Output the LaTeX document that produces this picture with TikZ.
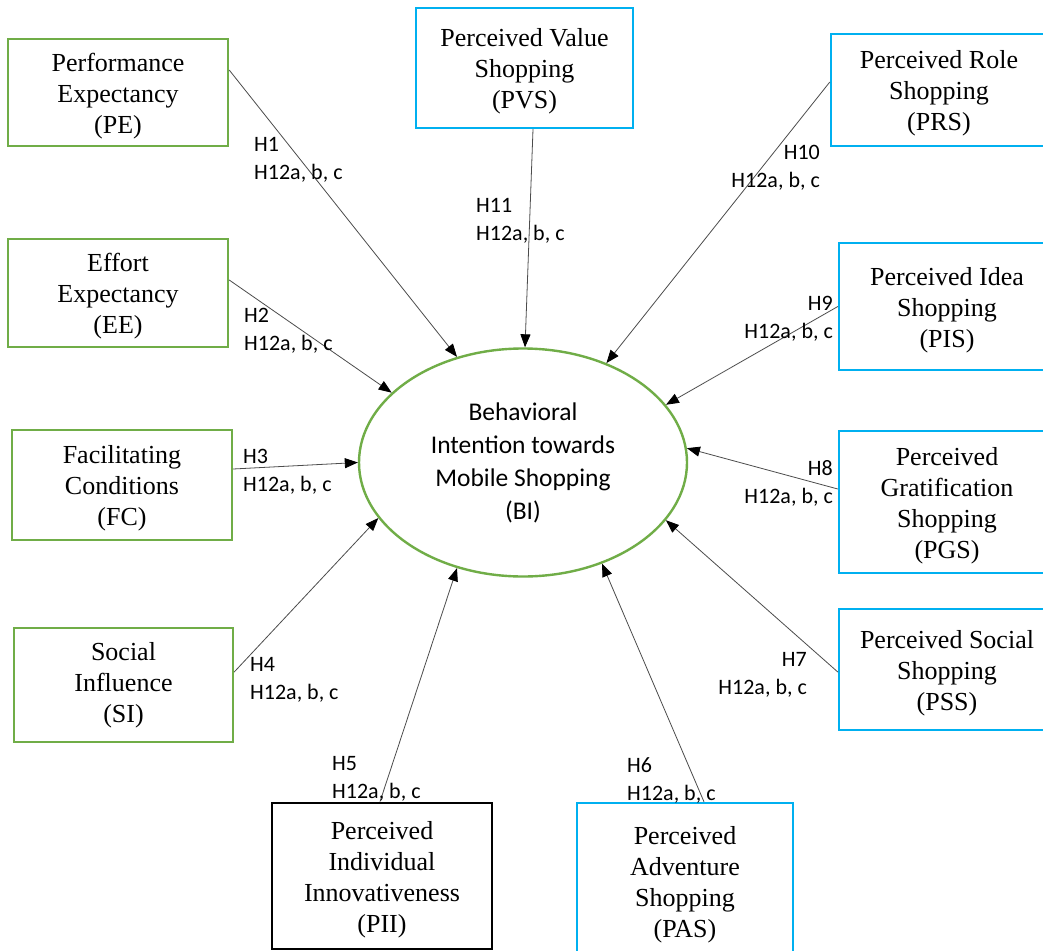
\documentclass[tikz,border=0pt]{standalone}
\usepackage{fontspec}
\setmainfont{Liberation Serif}
\newfontfamily\labelfont{Carlito}
\usetikzlibrary{arrows.meta,shapes.geometric}
\definecolor{boxgreen}{HTML}{70AD47}
\definecolor{boxblue}{HTML}{00B0F0}
% taller first line so the box text sits a little lower
\newcommand\lift{\rule{0pt}{25pt}}

\begin{document}
\begin{tikzpicture}[x=1pt,y=-1pt,
  construct/.style={draw, line width=2.4pt, inner sep=0pt, align=center,
    font=\fontsize{26}{31}\selectfont},
  utaut/.style={construct, draw=boxgreen},
  shop/.style={construct, draw=boxblue},
  trait/.style={construct, draw=black, line width=2.8pt},
  hyparrow/.style={draw=black!70, line width=0.8pt,
    -{Triangle[length=13pt,width=10pt,fill=black,color=black]}},
  hyp/.style={inner sep=0pt, font=\labelfont\fontsize{22}{28}\selectfont},
]
% canvas
\path[use as bounding box, fill=white] (0,0) rectangle (1043,950);
\clip (0,0) rectangle (1043,950);

% central construct
\node[ellipse, draw=boxgreen, line width=2.4pt, minimum width=328pt,
  minimum height=228pt, inner sep=0pt, align=center,
  font=\labelfont\fontsize{25.5}{33}\selectfont] (BI) at (523,462.5)
  {Behavioral\\Intention towards\\Mobile Shopping\\(BI)};

% UTAUT constructs (left)
\node[utaut, minimum width=220pt, minimum height=107pt] (PE) at (118,92.5)
  {\lift Performance\\Expectancy\\(PE)};
\node[utaut, minimum width=220pt, minimum height=108pt] (EE) at (118,293)
  {\lift Effort\\Expectancy\\(EE)};
\node[utaut, minimum width=220pt, minimum height=110pt] (FC) at (122,485)
  {\lift Facilitating\\Conditions\\(FC)};
\node[utaut, minimum width=219pt, minimum height=114pt] (SI) at (123.5,685)
  {Social\\Influence\\(SI)};

% personal trait
\node[trait, minimum width=220pt, minimum height=146pt] (PII) at (382,876)
  {\lift Perceived\\Individual\\Innovativeness\\(PII)};

% hedonic shopping constructs
\node[shop, minimum width=216pt, minimum height=156pt] (PAS) at (685,881)
  {\lift Perceived\\Adventure\\Shopping\\(PAS)};
\node[shop, minimum width=216pt, minimum height=121pt] (PSS) at (947,669.5)
  {\lift Perceived Social\\Shopping\\(PSS)};
\node[shop, minimum width=216pt, minimum height=142pt] (PGS) at (947,502)
  {\lift Perceived\\Gratification\\Shopping\\(PGS)};
\node[shop, minimum width=216pt, minimum height=127pt] (PIS) at (947,306.5)
  {\lift Perceived Idea\\Shopping\\(PIS)};
\node[shop, minimum width=216pt, minimum height=112pt] (PRS) at (939,90)
  {\lift Perceived Role\\Shopping\\(PRS)};
\node[shop, minimum width=217pt, minimum height=120pt] (PVS) at (524.5,68)
  {\lift Perceived Value\\Shopping\\(PVS)};

% hypothesised paths
\draw[hyparrow] ([yshift=22.5pt]PE.east) -- (BI.122.7);
\draw[hyparrow] ([yshift=13pt]EE.east) -- (BI.152.2);
\draw[hyparrow] ([yshift=16pt]FC.east) -- (BI.180.3);
\draw[hyparrow] ([yshift=13pt]SI.east) -- (BI.201.7);
\draw[hyparrow] ([xshift=-2pt]PII.north) -- (BI.238.5);
\draw[hyparrow] ([xshift=19pt]PAS.north) -- (BI.308.5);
\draw[hyparrow] ([yshift=-2.5pt]PSS.west) -- (BI.338.5);
\draw[hyparrow] ([yshift=13pt]PGS.west) -- (BI.5.9);
\draw[hyparrow] (PIS.west) -- (BI.22.1);
\draw[hyparrow] ([yshift=8pt]PRS.west) -- (BI.50.8);
\draw[hyparrow] ([xshift=8.5pt]PVS.south) -- (BI.89);

% hypothesis labels
\node[hyp, anchor=west, align=left] (L1) at (254,159.5) {H1\\H12a, b, c};
\node[hyp, anchor=west, align=left] (L2) at (244,331) {H2\\H12a, b, c};
\node[hyp, anchor=west, align=left] (L3) at (243,471.5) {H3\\H12a, b, c};
\node[hyp, anchor=west, align=left] (L4) at (250,679.5) {H4\\H12a, b, c};
\node[hyp, anchor=west, align=left] (L5) at (332,779) {H5\\H12a, b, c};
\node[hyp, anchor=west, align=left] (L6) at (627,780.5) {H6\\H12a, b, c};
\node[hyp, anchor=east, align=right] (L7) at (807,674.5) {H7\\H12a, b, c};
\node[hyp, anchor=east, align=right] (L8) at (833,483.5) {H8\\H12a, b, c};
\node[hyp, anchor=east, align=right] (L9) at (833,318.5) {H9\\H12a, b, c};
\node[hyp, anchor=east, align=right] (L10) at (820,168) {H10\\H12a, b, c};
\node[hyp, anchor=west, align=left] (L11) at (476,220.5) {H11\\H12a, b, c};
\end{tikzpicture}
\end{document}
